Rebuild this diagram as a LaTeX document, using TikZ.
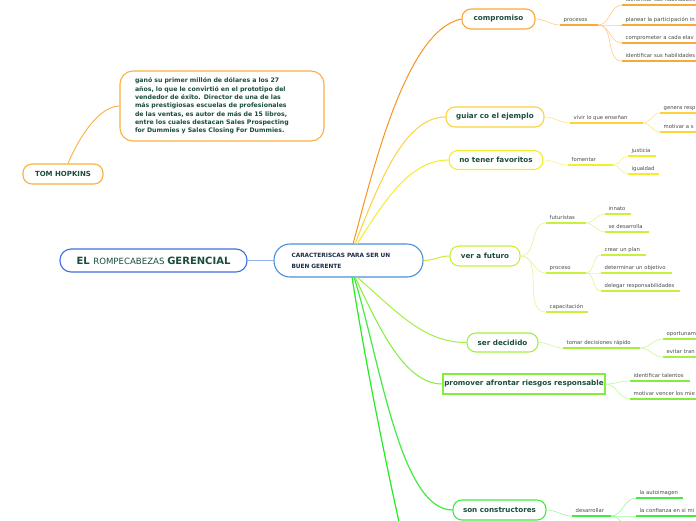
\documentclass[tikz,border=0pt]{standalone}
\usepackage{fontspec}
\setmainfont{DejaVu Sans}
\definecolor{dgreen}{HTML}{1B4D3E}
\definecolor{navy}{HTML}{1A2A4A}
\definecolor{subgrey}{HTML}{4A4A4A}
\definecolor{cOr}{HTML}{F9A83A}
\definecolor{cOrT}{HTML}{F7941D}
\definecolor{cOrL}{HTML}{FFCB85}
\definecolor{cGd}{HTML}{FDD23E}
\definecolor{cGdL}{HTML}{FFE48A}
\definecolor{cYe}{HTML}{F3EE2C}
\definecolor{cYeL}{HTML}{F8F485}
\definecolor{cYg}{HTML}{C8F03C}
\definecolor{cYgL}{HTML}{DFF79A}
\definecolor{cLi}{HTML}{A4F03E}
\definecolor{cLiL}{HTML}{CBF79C}
\definecolor{cGr}{HTML}{80EE3A}
\definecolor{cGrL}{HTML}{BDF79A}
\definecolor{cBg}{HTML}{40EC40}
\definecolor{cBgL}{HTML}{A0F5A0}
\definecolor{cBg2}{HTML}{22EE22}
\definecolor{cTom}{HTML}{FBB040}
\definecolor{cBlue}{HTML}{3D6FE0}
\definecolor{cBlue2}{HTML}{4A8FD6}
\definecolor{cBlueL}{HTML}{8FB0F0}
\tikzset{
  mainbox/.style={draw, fill=white, line width=1.1pt, rounded corners=9pt, inner sep=0pt,
    font=\bfseries\fontsize{7.2}{9}\selectfont, text=dgreen},
  subtext/.style={font=\fontsize{5.3}{6}\selectfont, text=subgrey, inner sep=0pt},
  ul/.style={line width=1.4pt},
  link/.style={line width=0.6pt},
  trunk/.style={line width=1pt},
}
\newcommand\mmitem[6]{%
  \coordinate (#1-l) at (#2,#3);
  \coordinate (#1-r) at (#4,#3);
  \draw[ul,#5] (#1-l) -- (#1-r);
  \node[subtext,anchor=base west] (#1) at ({#2+3.5},{#3-4}) {#6};}
\begin{document}
\begin{tikzpicture}[x=1pt,y=-1pt]
\useasboundingbox (0,0) rectangle (696,520);
\clip (0,0) rectangle (696,520);
\fill[white] (0,0) rectangle (696,520);

% --- left part
\node[mainbox, draw=cTom, minimum width=80, minimum height=20, font=\bfseries\fontsize{7}{8}\selectfont] (tom) at (63,174) {TOM HOPKINS};
\node[draw=cTom, fill=white, line width=1.1pt, rounded corners=13pt, minimum width=204, minimum height=70, inner sep=0pt,
  text width=174, align=left, text=dgreen, font=\bfseries\fontsize{6.2}{8.3}\selectfont] (desc) at (222,106)
  {ganó su primer millón de dólares a los 27\\años, lo que le convirtió en el prototipo del\\vendedor de éxito. Director de una de las\\más prestigiosas escuelas de profesionales\\de las ventas, es autor de más de 15 libros,\\entre los cuales destacan Sales Prospecting\\for Dummies y Sales Closing For Dummies.};
\draw[link, line width=0.9pt, cTom] ([xshift=5pt]tom.north) .. controls (80,135) and (100,106) .. (desc.west);

\node[mainbox, draw=cBlue, rounded corners=11pt, minimum width=187, minimum height=23] (el) at (153.5,260.5)
  {\fontsize{10}{11}\selectfont EL \mdseries\fontsize{8.6}{11}\selectfont ROMPECABEZAS \bfseries\fontsize{10}{11}\selectfont GERENCIAL};
\node[mainbox, draw=cBlue2, rounded corners=16pt, minimum width=149, minimum height=33, text width=114, align=left,
  text=navy, font=\bfseries\fontsize{5.8}{11}\selectfont] (car) at (348.5,260.5) {CARACTERISCAS PARA SER UN\\BUEN GERENTE};
\draw[cBlueL, line width=1.5pt] (el.east) -- (car.west);

% --- trunk coordinates
\coordinate (t1) at (353,244);
\coordinate (t2) at (355,244);
\coordinate (t3) at (357,244);
\coordinate (b1) at (357,277);
\coordinate (b2) at (355,277);
\coordinate (b3) at (354,277);
\coordinate (b4) at (352,277);
\coordinate (off1) at (403,540);

% --- main nodes
\node[mainbox, draw=cOr, minimum width=73, minimum height=20] (comp) at (498.5,19) {compromiso};
\node[mainbox, draw=cGd, minimum width=98, minimum height=20] (guiar) at (495,117) {guiar co el ejemplo};
\node[mainbox, draw=cYe, minimum width=94, minimum height=19] (fav) at (496,160) {no tener favoritos};
\node[mainbox, draw=cYg, minimum width=70, minimum height=20] (fut) at (485,256) {ver a futuro};
\node[mainbox, draw=cLi, minimum width=71, minimum height=19] (dec) at (502.5,342.5) {ser decidido};
\node[mainbox, draw=cGr, rounded corners=0pt, minimum width=162, minimum height=20] (prom) at (524,384) {promover afrontar riesgos responsable};
\node[mainbox, draw=cBg, minimum width=93, minimum height=20] (cons) at (499.5,510) {son constructores};

% --- trunks
\draw[trunk, cOrT] (t1) .. controls (372,175) and (405,30) .. (comp.west);
\draw[trunk, cGd] (t2) .. controls (380,180) and (405,117) .. (guiar.west);
\draw[trunk, cYe] (t3) .. controls (385,200) and (410,160) .. (fav.west);
\draw[trunk, cYg] (car.east) to[out=0,in=180] (fut.west);
\draw[trunk, cLi] (b1) .. controls (400,315) and (425,342.5) .. (dec.west);
\draw[trunk, cGr] (b2) .. controls (380,330) and (405,384) .. (prom.west);
\draw[trunk, line width=1.2pt, cBg] (b3) .. controls (380,360) and (400,510) .. (cons.west);
\draw[trunk, line width=1.2pt, cBg2] (b4) .. controls (365,360) and (385,460) .. (off1);

% --- compromiso
\mmitem{proc}{560}{25}{598}{cOr}{procesos}
\mmitem{c1}{622}{5}{700}{cOr}{identificar sus habilidades}
\mmitem{c2}{622}{25}{700}{cOr}{planear la participación in}
\mmitem{c3}{622}{43}{700}{cOr}{comprometer a cada elav}
\mmitem{c4}{622}{61}{700}{cOr}{identificar sus habilidades}
\draw[link, cOrL] (comp.east) to[out=0,in=180] (proc-l);
\foreach \k in {c1,c2,c3,c4} \draw[link, cOrL] (proc-r) to[out=0,in=180] (\k-l);

% --- guiar
\mmitem{viv}{570}{123}{643}{cGd}{vivir lo que enseñan}
\mmitem{g1}{660}{113}{700}{cGd}{genera resp}
\mmitem{g2}{660}{132}{700}{cGd}{motivar a s}
\draw[link, cGdL] (guiar.east) to[out=0,in=180] (viv-l);
\foreach \k in {g1,g2} \draw[link, cGdL] (viv-r) to[out=0,in=180] (\k-l);

% --- no tener favoritos
\mmitem{fom}{568}{165}{613}{cYe}{fomentar}
\mmitem{jus}{628}{156}{656}{cYe}{justicia}
\mmitem{igu}{628}{174}{659}{cYe}{igualdad}
\draw[link, cYeL] (fav.east) to[out=0,in=180] (fom-l);
\foreach \k in {jus,igu} \draw[link, cYeL] (fom-r) to[out=0,in=180] (\k-l);

% --- ver a futuro
\mmitem{futu}{546}{223}{586}{cYg}{futuristas}
\mmitem{inn}{605}{214}{631}{cYg}{innato}
\mmitem{sed}{605}{232}{649}{cYg}{se desarrolla}
\mmitem{pro}{546}{273}{586}{cYg}{proceso}
\mmitem{cre}{601}{255}{646}{cYg}{crear un plan}
\mmitem{det}{601}{273}{672}{cYg}{determinar un objetivo}
\mmitem{del}{601}{291}{680}{cYg}{delegar responsabilidades}
\mmitem{cap}{546}{312}{588}{cYg}{capacitación}
\foreach \k in {futu,pro,cap} \draw[link, cYgL] (fut.east) to[out=0,in=180] (\k-l);
\foreach \k in {inn,sed} \draw[link, cYgL] (futu-r) to[out=0,in=180] (\k-l);
\foreach \k in {cre,det,del} \draw[link, cYgL] (pro-r) to[out=0,in=180] (\k-l);

% --- ser decidido
\mmitem{tom2}{563}{348}{640}{cLi}{tomar decisiones rápido}
\mmitem{opo}{663}{339}{700}{cLi}{oportunam}
\mmitem{evi}{663}{357}{700}{cLi}{evitar tran}
\draw[link, cLiL] (dec.east) to[out=0,in=180] (tom2-l);
\foreach \k in {opo,evi} \draw[link, cLiL] (tom2-r) to[out=0,in=180] (\k-l);

% --- promover
\mmitem{ide}{630}{381}{690}{cGr}{identificar talentos}
\mmitem{mot}{630}{399}{700}{cGr}{motivar vencer los mie}
\foreach \k in {ide,mot} \draw[link, cGrL] (prom.east) to[out=0,in=180] (\k-l);

% --- son constructores
\mmitem{des}{572}{516}{611}{cBg}{desarrollar}
\mmitem{aut}{636}{498}{683}{cBg}{la autoimagen}
\mmitem{con}{636}{516}{700}{cBg}{la confianza en si mi}
\coordinate (off2) at (636,534);
\draw[link, cBgL] (cons.east) to[out=0,in=180] (des-l);
\foreach \k in {aut-l,con-l,off2} \draw[link, cBgL] (des-r) to[out=0,in=180] (\k);
\end{tikzpicture}
\end{document}
